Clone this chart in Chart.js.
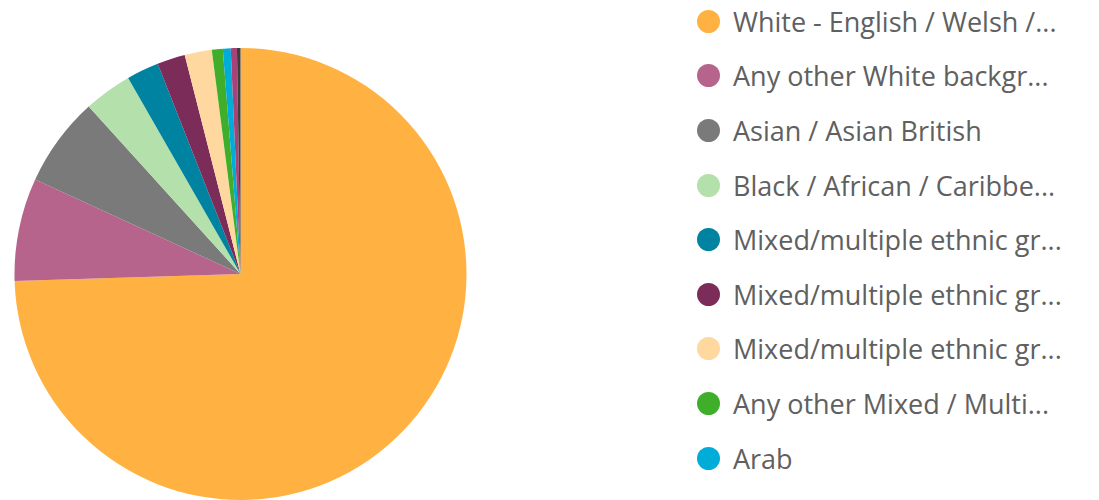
<!DOCTYPE html>
<html lang="en">
<head>
    <meta charset="UTF-8">
    <title>Ethnic group</title>
    <script src="https://cdn.jsdelivr.net/npm/chart.js"></script>
    <style>
        body { margin: 0; background: #fff; width: 1099px; height: 500px; overflow: hidden; font-family: "Open Sans", sans-serif; }
        #pieBox { position: absolute; left: 14px; top: 48px; width: 453px; height: 452px; }
        #legend { position: absolute; left: 697px; top: -6px; margin: 0; padding: 0; list-style: none; }
        #legend li { height: 54.6px; display: flex; align-items: center; font-size: 27px; color: #606060; white-space: nowrap; }
        #legend .dot { width: 23px; height: 23px; border-radius: 50%; margin-right: 13px; flex: none; }
    </style>
</head>
<body>
    <div id="pieBox"><canvas id="ethnicChart"></canvas></div>
    <ul id="legend"></ul>
    <script>
        const labels = [
            "White - English / Welsh / Scottish / Northern Irish / British",
            "Any other White background",
            "Asian / Asian British",
            "Black / African / Caribbean / Black British",
            "Mixed/multiple ethnic groups: White and Black Caribbean",
            "Mixed/multiple ethnic groups: White and Black African",
            "Mixed/multiple ethnic groups: White and Asian",
            "Any other Mixed / Multiple ethnic background",
            "Arab",
            "Any other ethnic group",
            "Prefer not to say"
        ];
        const shares = [74.5, 7.36, 6.42, 3.44, 2.31, 2.0, 1.94, 0.78, 0.56, 0.44, 0.25];
        const colours = ["#ffb142", "#b6648c", "#7a7a7a", "#b3e0ab", "#0083a0", "#7b2c59",
                         "#ffd8a0", "#3fae2a", "#00acd8", "#a84378", "#3d3d3d"];
        const legendCount = 9;

        // cut a label to the legend width, like the original does
        const measure = document.createElement('canvas').getContext('2d');
        measure.font = '27px "Open Sans"';
        function shorten(text, maxWidth) {
            if (measure.measureText(text).width <= maxWidth) return text;
            let t = text;
            while (t.length && measure.measureText(t.trimEnd() + '...').width > maxWidth) t = t.slice(0, -1);
            return t.trimEnd() + '...';
        }

        const legend = document.getElementById('legend');
        for (let i = 0; i < legendCount; i++) {
            const li = document.createElement('li');
            li.innerHTML = `<span class="dot" style="background:${colours[i]}"></span><span>${shorten(labels[i], 331)}</span>`;
            legend.appendChild(li);
        }

        new Chart(document.getElementById('ethnicChart'), {
            type: 'pie',
            data: {
                labels: labels,
                datasets: [{
                    data: shares,
                    backgroundColor: colours,
                    borderWidth: 0
                }]
            },
            options: {
                responsive: true,
                maintainAspectRatio: false,
                animation: false,
                layout: { padding: 0 },
                plugins: {
                    legend: { display: false },
                    tooltip: { enabled: false }
                }
            }
        });
    </script>
</body>
</html>
